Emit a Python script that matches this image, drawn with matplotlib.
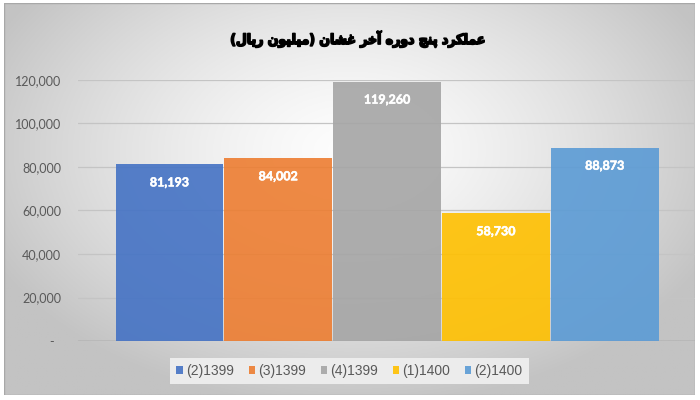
import numpy as np
import matplotlib
matplotlib.use("Agg")
import matplotlib.pyplot as plt
from matplotlib.patches import Patch, Rectangle
from matplotlib.ticker import FuncFormatter, MultipleLocator
import matplotlib.patheffects as pe

# ---------------- data ----------------
periods = ["(2)1399", "(3)1399", "(4)1399", "(1)1400", "(2)1400"]
values = [81193, 84002, 119260, 58730, 88873]
colors = ["#4472C4", "#ED7D31", "#A5A5A5", "#FFC000", "#5B9BD5"]

# Persian title (logical: عملکرد پنج دوره آخر غشان (میلیون ریال)), shaped with
# Arabic presentation forms because matplotlib does no RTL shaping
w_amalkard = [0xFECB, 0xFEE4, 0xFEE0, 0xFB91, 0xFEAE, 0xFEA9]
w_panj = [0xFB58, 0xFEE8, 0xFE9E]
w_doreh = [0xFEA9, 0xFEED, 0xFEAD, 0xFEE9]
w_akhar = [0xFE81, 0xFEA7, 0xFEAE]
w_ghashan = [0xFECF, 0xFEB8, 0xFE8E, 0xFEE5]
w_milion = [0xFEE3, 0xFBFF, 0xFEE0, 0xFBFF, 0xFEEE, 0xFEE5]
w_rial = [0xFEAD, 0xFBFE, 0xFE8E, 0xFEDD]


def vis(word):
    return "".join(chr(c) for c in reversed(word))


title_text = ("(" + vis(w_rial) + " " + vis(w_milion) + ") " + vis(w_ghashan) + " "
              + vis(w_akhar) + " " + vis(w_doreh) + " " + vis(w_panj) + " " + vis(w_amalkard))

# ---------------- figure ----------------
W, H = 700, 400
fig = plt.figure(figsize=(W / 100, H / 100), dpi=100)
fig.patch.set_facecolor("white")

# background chart area with radial gradient
bx0, by0, bx1, by1 = 4, 3, 695, 395
bg = fig.add_axes([bx0 / W, 1 - by1 / H, (bx1 - bx0) / W, (by1 - by0) / H], zorder=0)
gx = np.linspace(-1, 1, 400)
gy = np.linspace(-1, 1, 240)
X, Y = np.meshgrid(gx, gy)
D = np.sqrt(X ** 2 + ((Y + 0.25) / 1.15) ** 2)
D = np.clip(D / 1.15, 0, 1)
val = 253 - 58 * D ** 1.4
img = np.dstack([val, val, val]) / 255.0
bg.imshow(img, aspect="auto", extent=[0, 1, 0, 1], origin="upper")
bg.add_patch(Rectangle((0, 0), 1, 1, transform=bg.transAxes, fill=False,
                       edgecolor="#a8a8a8", linewidth=1.0))
bg.set_axis_off()

# main axes
ax_l, ax_r, ax_b, ax_t = 78, 695, 341, 80
ax = fig.add_axes([ax_l / W, 1 - ax_b / H, (ax_r - ax_l) / W, (ax_b - ax_t) / H], zorder=1)
ax.patch.set_alpha(0)

x = np.arange(len(values))
bars = ax.bar(x, values, width=0.99, color=colors, alpha=0.9, zorder=2)

ax.set_ylim(0, 120000)
ax.set_xlim(-0.84, 4.83)
ax.yaxis.set_major_locator(MultipleLocator(20000))
ax.grid(axis="y", color="#c4c4c4", linewidth=0.9, zorder=0)
ax.set_axisbelow(True)
ax.axhline(0, color="#8c8c8c", linewidth=1.0, zorder=1)
for s in ax.spines.values():
    s.set_visible(False)
ax.set_xticks([])


def fmt(v, pos):
    if v == 0:
        return "-  "
    return f"{int(v):,}"


ax.yaxis.set_major_formatter(FuncFormatter(fmt))
ax.tick_params(axis="y", length=0, pad=12, labelsize=9, labelcolor="#595959")
for t in ax.get_yticklabels():
    t.set_fontfamily("Lato")

for xi, v in zip(x, values):
    ax.annotate(f"{v:,}", (xi, v), xytext=(0, -18), textcoords="offset pixels",
                ha="center", va="center", color="white", fontsize=9,
                fontweight="bold", family="Lato", zorder=3,
                path_effects=[pe.withStroke(linewidth=0.4, foreground="white")])

# title
fig.text(358 / W, 1 - 39 / H, title_text, ha="center", va="center",
         fontsize=10, fontweight="bold", family=["DejaVu Sans"], color="black",
         fontstretch="condensed",
         path_effects=[pe.withStroke(linewidth=1.2, foreground="black")])

# legend
handles = [Patch(facecolor=c, edgecolor="none", alpha=0.9) for c in colors]
leg = fig.legend(handles, periods, loc="center", ncol=5,
                 bbox_to_anchor=(349.5 / W, 1 - 371 / H),
                 frameon=True, fancybox=False, fontsize=10,
                 handlelength=0.45, handleheight=0.45, handletextpad=0.25,
                 columnspacing=1.05, borderpad=0.45,
                 prop={"family": "Liberation Sans", "size": 10})
leg.get_frame().set_facecolor("#ececec")
leg.get_frame().set_edgecolor("none")
leg.get_frame().set_alpha(1)
leg.set_zorder(5)
for t in leg.get_texts():
    t.set_color("#595959")

fig.savefig("out.png", dpi=100)
